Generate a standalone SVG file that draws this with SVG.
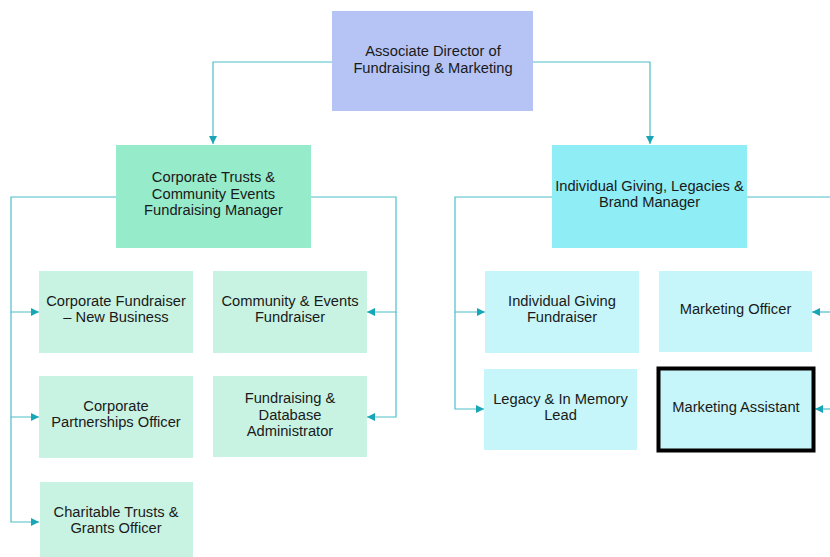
<svg xmlns="http://www.w3.org/2000/svg" width="830" height="557" viewBox="0 0 830 557">
<style>
text{font-family:"Liberation Sans",Arial,sans-serif;font-size:14.7px;fill:#1a1a1a;text-anchor:middle}
.c{fill:none;stroke:#4cbfca;stroke-width:1.2}
.top{fill:#b5c4f5}
.mgrL{fill:#96ebca}
.mgrR{fill:#8eedf5}
.chL{fill:#c8f3e3}
.chR{fill:#c6f6f9}
</style>
<defs>
<marker id="ah" viewBox="0 0 10 10" refX="10" refY="5" markerWidth="8" markerHeight="8" markerUnits="userSpaceOnUse" orient="auto">
<path d="M0,0 L10,5 L0,10 z" fill="#16a6b6"/>
</marker>
</defs>
<rect width="830" height="557" fill="#ffffff"/>
<g id="connectors">
<path class="c" d="M332,62 H213 V144" marker-end="url(#ah)"/>
<path class="c" d="M533,62 H650 V144" marker-end="url(#ah)"/>
<path class="c" d="M116,197 H11 V312 H39" marker-end="url(#ah)"/>
<path class="c" d="M11,312 V417 H39" marker-end="url(#ah)"/>
<path class="c" d="M11,417 V522 H39" marker-end="url(#ah)"/>
<path class="c" d="M311,197 H396 V312 H367" marker-end="url(#ah)"/>
<path class="c" d="M396,312 V417 H367" marker-end="url(#ah)"/>
<path class="c" d="M552,197 H455 V312 H485" marker-end="url(#ah)"/>
<path class="c" d="M455,312 V409 H484" marker-end="url(#ah)"/>
<path class="c" d="M747,197 H830"/>
<path class="c" d="M830,312 H812" marker-end="url(#ah)"/>
<path class="c" d="M830,409 H815" marker-end="url(#ah)"/>
</g>
<g id="director">
<rect class="top" x="332" y="11" width="201" height="100"/>
<text x="433" y="56">Associate Director of</text>
<text x="433" y="73">Fundraising &amp; Marketing</text>
</g>
<g id="corp-manager">
<rect class="mgrL" x="116" y="145" width="195" height="103"/>
<text x="213.5" y="182">Corporate Trusts &amp;</text>
<text x="213.5" y="199">Community Events</text>
<text x="213.5" y="215">Fundraising Manager</text>
</g>
<g id="ig-manager">
<rect class="mgrR" x="552" y="145" width="195" height="103"/>
<text x="649.5" y="191">Individual Giving, Legacies &amp;</text>
<text x="649.5" y="207">Brand Manager</text>
</g>
<g id="corp-fundraiser">
<rect class="chL" x="39" y="271" width="154" height="82"/>
<text x="116" y="306">Corporate Fundraiser</text>
<text x="116" y="322">– New Business</text>
</g>
<g id="corp-partnerships">
<rect class="chL" x="39" y="376" width="154" height="82"/>
<text x="116" y="411">Corporate</text>
<text x="116" y="427">Partnerships Officer</text>
</g>
<g id="charitable-trusts">
<rect class="chL" x="40" y="482" width="153" height="80"/>
<text x="116" y="517">Charitable Trusts &amp;</text>
<text x="116" y="533">Grants Officer</text>
</g>
<g id="community-events">
<rect class="chL" x="213" y="271" width="154" height="82"/>
<text x="290" y="306">Community &amp; Events</text>
<text x="290" y="322">Fundraiser</text>
</g>
<g id="database-admin">
<rect class="chL" x="213" y="376" width="154" height="81"/>
<text x="290" y="403">Fundraising &amp;</text>
<text x="290" y="420">Database</text>
<text x="290" y="436">Administrator</text>
</g>
<g id="ig-fundraiser">
<rect class="chR" x="485" y="271" width="154" height="82"/>
<text x="562" y="306">Individual Giving</text>
<text x="562" y="322">Fundraiser</text>
</g>
<g id="legacy-lead">
<rect class="chR" x="484" y="369" width="153" height="81"/>
<text x="560.5" y="404">Legacy &amp; In Memory</text>
<text x="560.5" y="420">Lead</text>
</g>
<g id="marketing-officer">
<rect class="chR" x="659" y="271" width="153" height="81"/>
<text x="735.5" y="314">Marketing Officer</text>
</g>
<g id="marketing-assistant">
<rect class="chR" x="658.5" y="368.5" width="155" height="82" stroke="#000000" stroke-width="4"/>
<text x="736" y="412">Marketing Assistant</text>
</g>
</svg>
